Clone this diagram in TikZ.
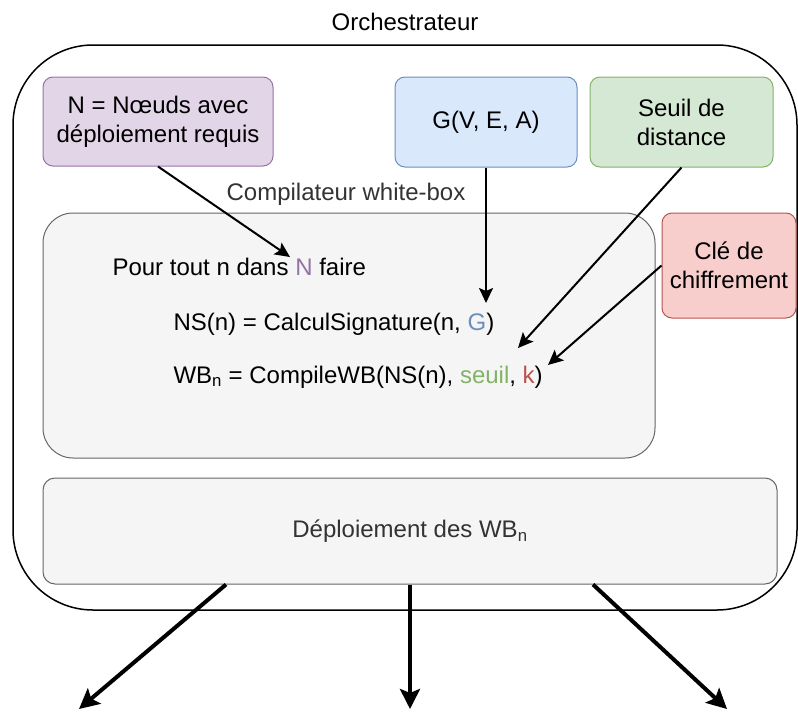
\documentclass[tikz,border=0pt]{standalone}
\usepackage{fontspec}
\setmainfont{Liberation Sans}
\usetikzlibrary{arrows.meta}
\definecolor{violetfond}{HTML}{E1D5E7}
\definecolor{violettrait}{HTML}{9673A6}
\definecolor{bleufond}{HTML}{DAE8FC}
\definecolor{bleutrait}{HTML}{6C8EBF}
\definecolor{vertfond}{HTML}{D5E8D4}
\definecolor{verttrait}{HTML}{82B366}
\definecolor{rougefond}{HTML}{F8CECC}
\definecolor{rougetrait}{HTML}{B85450}
\definecolor{grisfond}{HTML}{F5F5F5}
\definecolor{gristrait}{HTML}{666666}
\definecolor{gristexte}{HTML}{333333}
\begin{document}
\begin{tikzpicture}[x=1pt, y=-1pt, line width=1pt,
  texte/.style={font=\fontsize{24}{29}\selectfont},
  boite/.style={texte, draw, rounded corners=10pt, align=center, inner sep=0pt},
  fleche/.style={line width=2pt, -{Stealth[length=15pt, width=14pt, inset=3pt]}},
  grossefleche/.style={line width=4pt, -{Stealth[length=20pt, width=20pt, inset=4pt]}}]
  \useasboundingbox (0,0) rectangle (798,715);
  % orchestrateur
  \node[draw, line width=1.5pt, rounded corners=80pt, minimum width=784pt, minimum height=565pt] (orch) at (405,327.5) {};
  \node[texte] (titre) at (405,22) {Orchestrateur};
  % entrées
  \node[boite, fill=violetfond, draw=violettrait, minimum width=230pt, minimum height=89pt] (noeuds) at (158,121.5) {N = Nœuds avec\\déploiement requis};
  \node[boite, fill=bleufond, draw=bleutrait, minimum width=182pt, minimum height=90pt] (graphe) at (486,122) {G(V, E, A)};
  \node[boite, fill=vertfond, draw=verttrait, minimum width=183pt, minimum height=90pt] (seuil) at (681.5,122) {Seuil de\\distance};
  \node[boite, fill=rougefond, draw=rougetrait, minimum width=134pt, minimum height=105pt] (cle) at (729,265.5) {Clé de\\chiffrement};
  % compilateur white-box
  \node[draw=gristrait, fill=grisfond, rounded corners=30pt, minimum width=612pt, minimum height=245pt] (compil) at (349,335.5) {};
  \node[texte, text=gristexte] (nomcompil) at (346,194) {Compilateur white-box};
  \node[texte, anchor=base west, inner sep=0pt] (boucle) at (112,275) {Pour tout n dans \textcolor{violettrait}{N} faire};
  \node[texte, anchor=base west, inner sep=0pt] (signature) at (173,330) {NS(n) = CalculSignature(n, \textcolor{bleutrait}{G})};
  \node[texte, anchor=base west, inner sep=0pt] (compile) at (173,383) {WB\textsubscript{n} = CompileWB(NS(n), \textcolor{verttrait}{seuil}, \textcolor{rougetrait}{k})};
  \coordinate (pN) at (290,257);
  \coordinate (pG) at (486,303);
  \coordinate (pS) at (518,348);
  \coordinate (pK) at (548,365);
  \draw[fleche] (noeuds.south) -- (pN);
  \draw[fleche] (graphe.south) -- (pG);
  \draw[fleche] (seuil.south) -- (pS);
  \draw[fleche] (cle.west) -- (pK);
  % déploiement
  \node[texte, draw=gristrait, fill=grisfond, text=gristexte, rounded corners=12pt, minimum width=734pt, minimum height=106pt] (deploiement) at (410,531) {Déploiement des WB\textsubscript{n}};
  \foreach \i/\a/\b in {1/226/79, 2/410/410, 3/593/727}{
    \coordinate (sortie\i) at (\b,709);
    \draw[grossefleche] (\a,0 |- deploiement.south) -- (sortie\i);
  }
\end{tikzpicture}
\end{document}
